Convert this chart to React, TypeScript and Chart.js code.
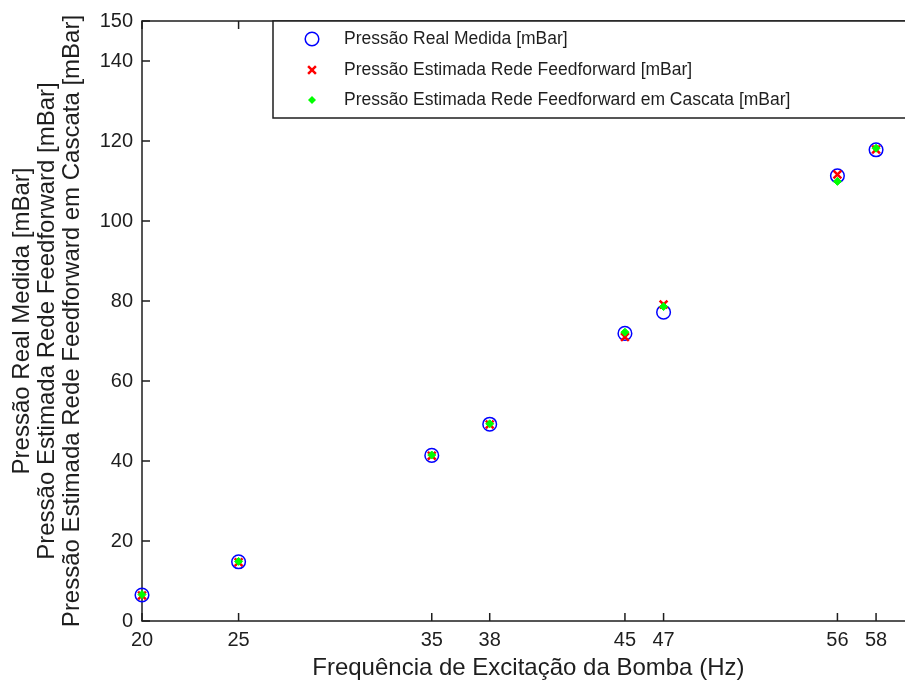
import { useEffect, useRef } from 'react';
import { Chart, registerables } from 'chart.js';

Chart.register(...registerables);

// Pump excitation frequency (Hz)
const frequencies = [20, 25, 35, 38, 45, 47, 56, 58];
// Measured pressure (mBar)
const realPressure = [6.5, 14.8, 41.4, 49.2, 71.9, 77.2, 111.3, 117.8];
// Feedforward network estimate (mBar)
const feedforwardPressure = [6.4, 14.7, 41.3, 49.1, 71.0, 79.1, 111.6, 117.9];
// Cascaded feedforward network estimate (mBar)
const cascadePressure = [6.6, 14.9, 41.5, 49.3, 72.2, 78.6, 109.9, 118.2];

const xTicks = [20, 25, 35, 38, 45, 47, 56, 58];
const yTicks = [0, 20, 40, 60, 80, 100, 120, 140, 150];

const seriesLabels = [
  'Pressão Real Medida [mBar]',
  'Pressão Estimada Rede Feedforward [mBar]',
  'Pressão Estimada Rede Feedforward em Cascata [mBar]',
];
const xTitle = 'Frequência de Excitação da Bomba (Hz)';
const yTitle = [
  'Pressão Real Medida [mBar]',
  'Pressão Estimada Rede Feedforward [mBar]',
  'Pressão Estimada Rede Feedforward em Cascata [mBar]',
];

const FONT = "'Liberation Sans', Arial, Helvetica, sans-serif";
const INK = '#1e1e1e';
const TICK = 8;

function toPoints(values: number[]) {
  return frequencies.map((f, i) => ({ x: f, y: values[i] }));
}

function drawCircle(ctx: CanvasRenderingContext2D, x: number, y: number) {
  ctx.beginPath();
  ctx.arc(x, y, 6.8, 0, Math.PI * 2);
  ctx.strokeStyle = '#0000ff';
  ctx.lineWidth = 1.5;
  ctx.stroke();
}
function drawX(ctx: CanvasRenderingContext2D, x: number, y: number) {
  const d = 3.9;
  ctx.beginPath();
  ctx.moveTo(x - d, y - d);
  ctx.lineTo(x + d, y + d);
  ctx.moveTo(x + d, y - d);
  ctx.lineTo(x - d, y + d);
  ctx.strokeStyle = '#ff0000';
  ctx.lineWidth = 2.5;
  ctx.stroke();
}
function drawDiamond(ctx: CanvasRenderingContext2D, x: number, y: number) {
  const d = 4;
  ctx.beginPath();
  ctx.moveTo(x, y - d);
  ctx.lineTo(x + d, y);
  ctx.lineTo(x, y + d);
  ctx.lineTo(x - d, y);
  ctx.closePath();
  ctx.fillStyle = '#00ff00';
  ctx.fill();
}

// Box frame with inward ticks on all four sides
const framePlugin = {
  id: 'boxFrame',
  beforeDatasetsDraw(chart: any) {
    const { ctx, chartArea, scales } = chart;
    const { left, top, right, bottom } = chartArea;
    ctx.save();
    ctx.strokeStyle = INK;
    ctx.lineWidth = 1.5;
    ctx.beginPath();
    for (const t of xTicks) {
      const px = scales.x.getPixelForValue(t);
      ctx.moveTo(px, bottom);
      ctx.lineTo(px, bottom - TICK);
      ctx.moveTo(px, top);
      ctx.lineTo(px, top + TICK);
    }
    for (const t of yTicks) {
      const py = scales.y.getPixelForValue(t);
      ctx.moveTo(left, py);
      ctx.lineTo(left + TICK, py);
      ctx.moveTo(right, py);
      ctx.lineTo(right - TICK, py);
    }
    ctx.stroke();
    ctx.strokeRect(left, top, right - left, bottom - top);
    ctx.restore();
  },
};

// Boxed legend in the upper right corner of the axes
const legendPlugin = {
  id: 'boxLegend',
  afterDatasetsDraw(chart: any) {
    const { ctx, chartArea } = chart;
    const boxLeft = 273;
    const boxTop = chartArea.top;
    const boxBottom = 118;
    const boxRight = chartArea.right;
    ctx.save();
    ctx.fillStyle = '#ffffff';
    ctx.fillRect(boxLeft, boxTop, boxRight - boxLeft, boxBottom - boxTop);
    ctx.strokeStyle = INK;
    ctx.lineWidth = 1.5;
    ctx.strokeRect(boxLeft, boxTop, boxRight - boxLeft, boxBottom - boxTop);
    const rows = [39, 70, 100];
    const markers = [drawCircle, drawX, drawDiamond];
    ctx.font = `17.5px ${FONT}`;
    ctx.textBaseline = 'middle';
    ctx.textAlign = 'left';
    seriesLabels.forEach((label, i) => {
      markers[i](ctx, 312, rows[i]);
      ctx.fillStyle = INK;
      ctx.fillText(label, 344, rows[i]);
    });
    ctx.restore();
  },
};

export default function App() {
  const canvasRef = useRef<HTMLCanvasElement | null>(null);

  useEffect(() => {
    const canvas = canvasRef.current;
    if (!canvas) return;
    const chart = new Chart(canvas, {
      type: 'scatter',
      data: {
        datasets: [
          {
            label: seriesLabels[0],
            data: toPoints(realPressure),
            pointStyle: 'circle',
            pointRadius: 6.8,
            pointBorderWidth: 1.5,
            borderColor: '#0000ff',
            backgroundColor: 'rgba(0,0,0,0)',
            order: 2,
            clip: false,
          },
          {
            label: seriesLabels[1],
            data: toPoints(feedforwardPressure),
            pointStyle: 'crossRot',
            pointRadius: 5.5,
            pointBorderWidth: 2.5,
            borderColor: '#ff0000',
            backgroundColor: '#ff0000',
            order: 1,
            clip: false,
          },
          {
            label: seriesLabels[2],
            data: toPoints(cascadePressure),
            pointStyle: 'rectRot',
            pointRadius: 4,
            pointBorderWidth: 1,
            borderColor: '#00ff00',
            backgroundColor: '#00ff00',
            order: 0,
            clip: false,
          },
        ] as any,
      },
      options: {
        responsive: false,
        animation: false,
        devicePixelRatio: 1,
        layout: { padding: { left: 0, top: 20, right: 6, bottom: 0 } },
        plugins: {
          legend: { display: false },
          tooltip: { enabled: false },
        },
        scales: {
          x: {
            type: 'linear',
            min: 20,
            max: 60,
            grid: { display: false, drawTicks: false },
            border: { display: false },
            afterBuildTicks: (axis: any) => {
              axis.ticks = xTicks.map((v) => ({ value: v }));
            },
            afterFit: (axis: any) => {
              axis.height = 65;
            },
            ticks: {
              padding: 7,
              color: INK,
              font: { family: FONT, size: 20 },
              maxRotation: 0,
              autoSkip: false,
            },
            title: {
              display: true,
              text: xTitle,
              color: INK,
              font: { family: FONT, size: 24 },
              padding: { top: 0, bottom: 3 },
            },
          },
          y: {
            type: 'linear',
            min: 0,
            max: 150,
            grid: { display: false, drawTicks: false },
            border: { display: false },
            afterBuildTicks: (axis: any) => {
              axis.ticks = yTicks.map((v) => ({ value: v }));
            },
            afterFit: (axis: any) => {
              axis.width = 142;
            },
            ticks: {
              padding: 9,
              color: INK,
              font: { family: FONT, size: 20 },
              autoSkip: false,
            },
            title: {
              display: true,
              text: yTitle,
              color: INK,
              font: { family: FONT, size: 24, lineHeight: '25px' },
              padding: { top: 10, bottom: 0 },
            },
          },
        },
      },
      plugins: [framePlugin, legendPlugin],
    } as any);
    return () => chart.destroy();
  }, []);

  return (
    <div
      style={{
        position: 'fixed',
        left: 0,
        top: 0,
        width: 905,
        height: 686,
        overflow: 'hidden',
        background: '#ffffff',
      }}
    >
      <canvas ref={canvasRef} width={923} height={686} style={{ display: 'block' }} />
    </div>
  );
}
